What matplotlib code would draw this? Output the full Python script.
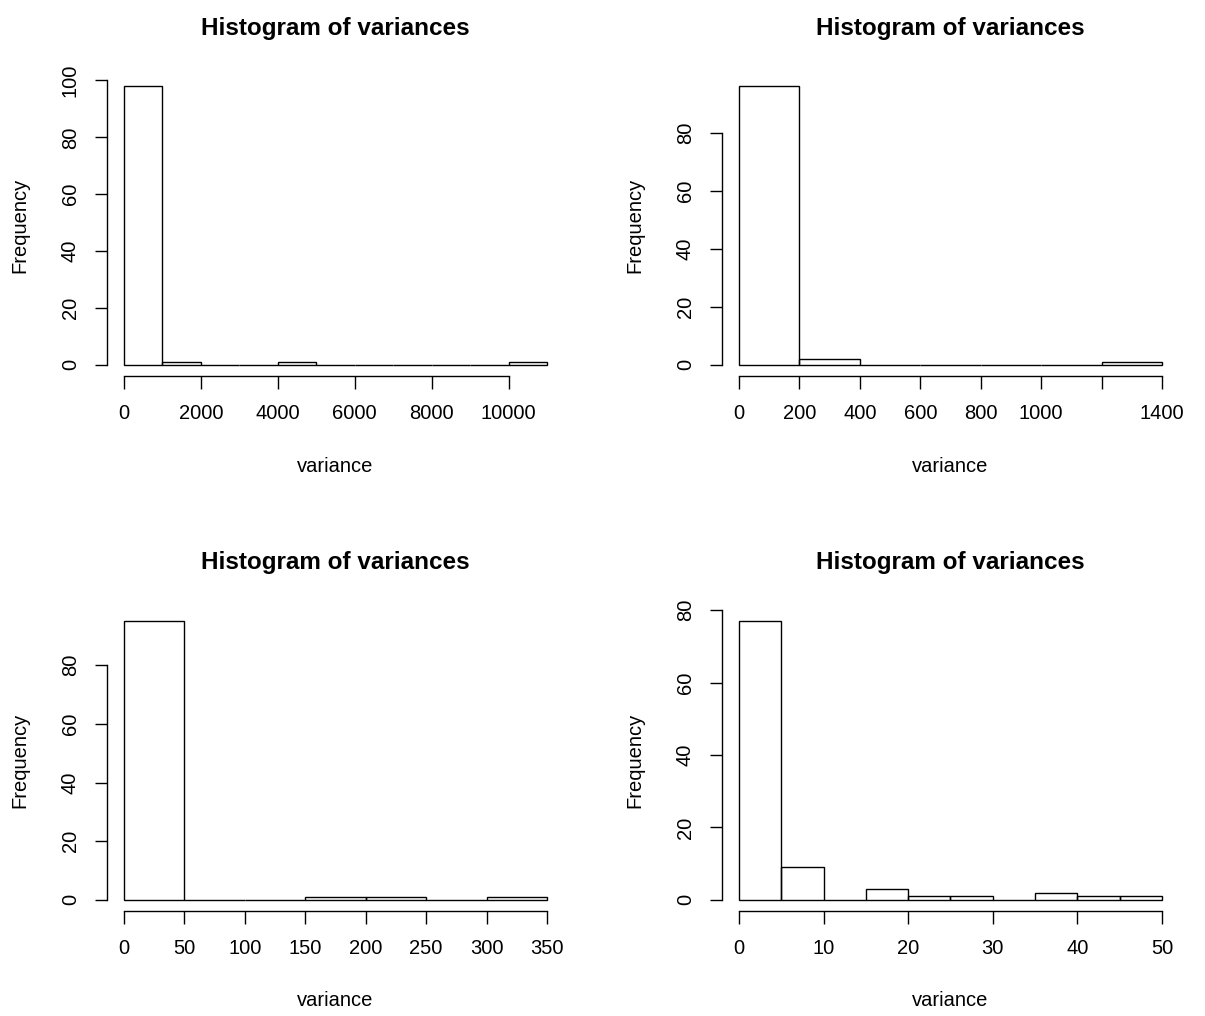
import matplotlib
matplotlib.use('Agg')
import matplotlib.pyplot as plt
import numpy as np

plt.rcParams['font.family'] = ['Liberation Sans', 'DejaVu Sans']

# four histograms of variances
edges_1 = np.arange(0, 11001, 1000)
counts_1 = [98, 1, 0, 0, 1, 0, 0, 0, 0, 0, 1]
xticks_1 = [0, 2000, 4000, 6000, 8000, 10000]
xlabels_1 = ['0', '2000', '4000', '6000', '8000', '10000']
yticks_1 = [0, 20, 40, 60, 80, 100]

edges_2 = np.arange(0, 1401, 200)
counts_2 = [96, 2, 0, 0, 0, 0, 1]
xticks_2 = [0, 200, 400, 600, 800, 1000, 1200, 1400]
xlabels_2 = ['0', '200', '400', '600', '800', '1000', '', '1400']
yticks_2 = [0, 20, 40, 60, 80]

edges_3 = np.arange(0, 351, 50)
counts_3 = [95, 0, 0, 1, 1, 0, 1]
xticks_3 = [0, 50, 100, 150, 200, 250, 300, 350]
xlabels_3 = ['0', '50', '100', '150', '200', '250', '300', '350']
yticks_3 = [0, 20, 40, 60, 80]

edges_4 = np.arange(0, 51, 5)
counts_4 = [77, 9, 0, 3, 1, 1, 0, 2, 1, 1]
xticks_4 = [0, 10, 20, 30, 40, 50]
xlabels_4 = ['0', '10', '20', '30', '40', '50']
yticks_4 = [0, 20, 40, 60, 80]

panels = [
    (edges_1, counts_1, xticks_1, xlabels_1, yticks_1),
    (edges_2, counts_2, xticks_2, xlabels_2, yticks_2),
    (edges_3, counts_3, xticks_3, xlabels_3, yticks_3),
    (edges_4, counts_4, xticks_4, xlabels_4, yticks_4),
]

W, H = 1205, 1016
fig = plt.figure(figsize=(W / 100, H / 100), dpi=100, facecolor='white')

# plot regions in pixels: left, top, width, height
ax_w, ax_h = 457, 301
regions = [(107, 75), (722, 75), (107, 610), (722, 610)]

lw = 1.0
fs = 14.5
for (left, top), (edges, counts, xt, xl, yt) in zip(regions, panels):
    ax = fig.add_axes([left / W, 1 - (top + ax_h) / H, ax_w / W, ax_h / H])
    ax.bar(edges[:-1], counts, width=np.diff(edges), align='edge',
           fill=False, edgecolor='black', linewidth=lw)
    # R style 4% padding
    xr = edges[-1] - edges[0]
    ax.set_xlim(edges[0] - 0.04 * xr, edges[-1] + 0.04 * xr)
    ym = max(counts)
    ax.set_ylim(-0.04 * ym, ym * 1.04)

    for s in ['top', 'right']:
        ax.spines[s].set_visible(False)
    ax.spines['bottom'].set_bounds(xt[0], xt[-1])
    ax.spines['left'].set_bounds(yt[0], yt[-1])
    for s in ['bottom', 'left']:
        ax.spines[s].set_linewidth(lw)

    ax.set_xticks(xt)
    ax.set_xticklabels(xl)
    ax.set_yticks(yt)
    ax.set_yticklabels([str(v) for v in yt], rotation=90, va='center')
    ax.tick_params(axis='both', direction='out', length=9, width=lw,
                   labelsize=fs)
    ax.tick_params(axis='x', pad=11)
    ax.tick_params(axis='y', pad=10.5)

    ax.text(0.5, -90 / ax_h, 'variance', transform=ax.transAxes,
            ha='center', va='center', fontsize=fs)
    ax.text(-87 / ax_w, 0.5, 'Frequency', transform=ax.transAxes,
            ha='center', va='center', rotation=90, fontsize=fs)
    ax.text(0.5, 1 + 47 / ax_h, 'Histogram of variances',
            transform=ax.transAxes, ha='center', va='center',
            fontsize=17.5, fontweight='bold')

fig.savefig('out.png', dpi=100, facecolor='white')
